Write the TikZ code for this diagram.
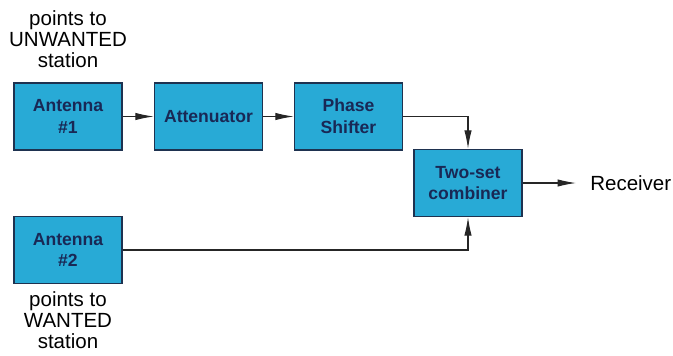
\documentclass[tikz,border=0pt]{standalone}
\usepackage{fontspec}
\setmainfont{Liberation Sans}
\usepackage{tikz}
\usetikzlibrary{
    arrows.meta,
    calc,
    positioning
}
\definecolor{boxfill}{RGB}{40,170,214}
\definecolor{boxline}{RGB}{30,50,80}
\definecolor{boxtext}{RGB}{25,40,85}
\tikzset{
    block/.style={draw=boxline, line width=1.2pt, fill=boxfill,
        minimum width=3.24cm, minimum height=2.01cm, align=center,
        text=boxtext, font=\fontsize{15}{18.5}\selectfont\bfseries},
    wire/.style={line width=0.9pt, black!85},
    sigarrow/.style={wire, -{Latex[length=5.5mm, width=2.2mm]}},
    note/.style={align=center, font=\fontsize{17.5}{18}\selectfont}
}

\begin{document}
\begin{tikzpicture}[x=0.03cm, y=-0.03cm]
    \useasboundingbox (0,0) rectangle (673,355);
    % upper chain
    \node[block] (ant1) at (68,116.5) {Antenna\\\#1};
    \node[block] (atten) at (208.5,116.5) {Attenuator};
    \node[block] (phase) at (348.5,116.5) {Phase\\Shifter};
    \node[block] (comb) at (468,183) {Two-set\\combiner};
    % lower antenna
    \node[block] (ant2) at (68,250) {Antenna\\\#2};
    \node[note] (unwanted) at (68,39) {points to\\UNWANTED\\station};
    \node[note] (wanted) at (68,320) {points to\\WANTED\\station};
    \node[note, anchor=west, inner xsep=12pt] (recv) at (576,183) {Receiver};
    % connections
    \draw[sigarrow] (ant1) -- (atten);
    \draw[sigarrow] (atten) -- (phase);
    \draw[sigarrow] (phase.east) -| (comb.north);
    \draw[sigarrow] (ant2.east) -| (comb.south);
    \draw[sigarrow] (comb.east) -- (recv.west);
\end{tikzpicture}
\end{document}
